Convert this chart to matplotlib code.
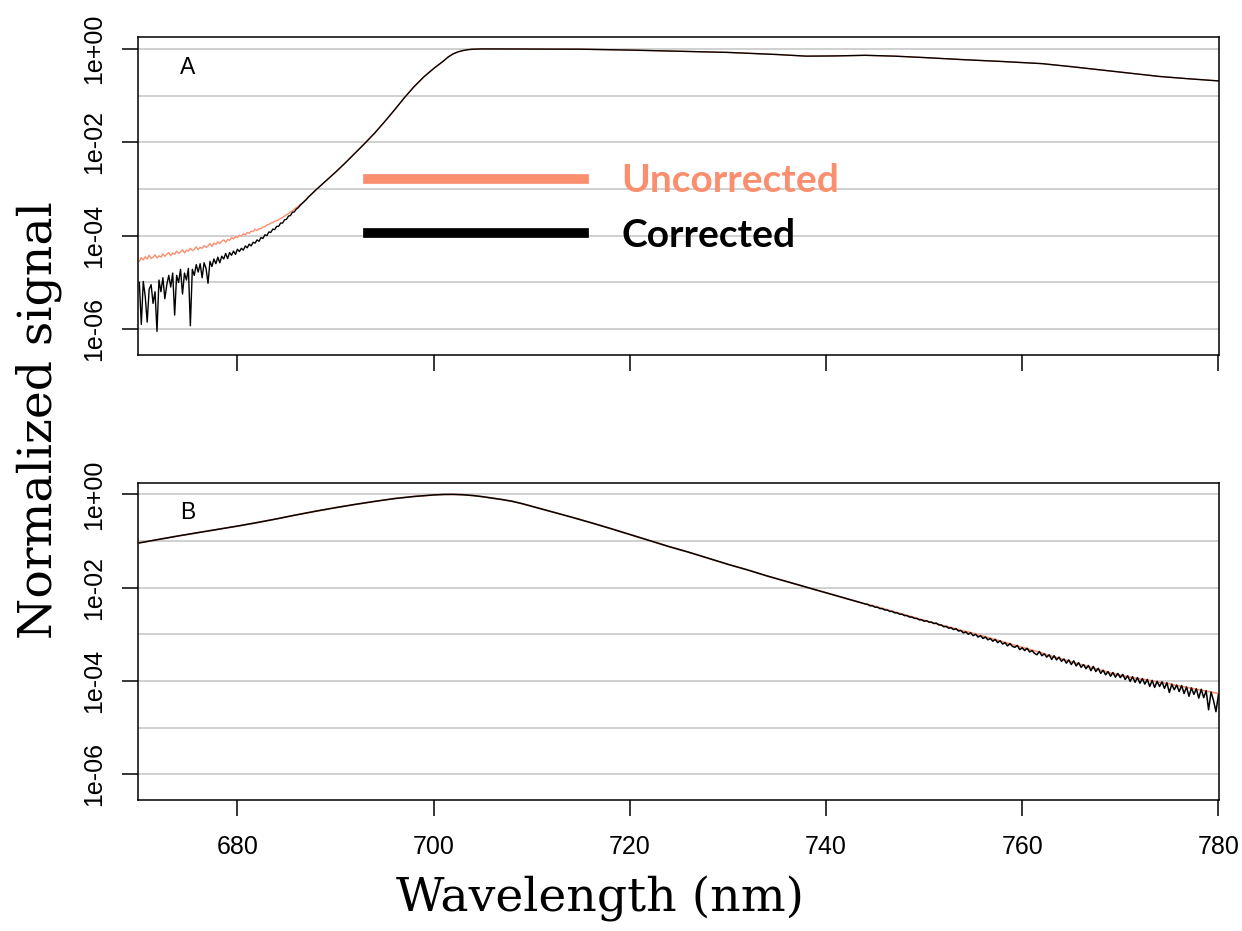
import numpy as np
import matplotlib
matplotlib.use("Agg")
import matplotlib.pyplot as plt
from matplotlib.lines import Line2D

# ---------- DATA (log10 of normalized signal) ----------
# panel A, noisy short-wavelength edge, 670.0 .. 687.8 nm in 0.2 nm steps
A_NOISY_START, A_NOISY_STEP = 670.0, 0.2
a_uncorr_noisy = [
    -4.55, -4.47, -4.52, -4.45, -4.50, -4.42, -4.49, -4.46, -4.41, -4.48,
    -4.43, -4.46, -4.39, -4.44, -4.40, -4.36, -4.43, -4.37, -4.40, -4.33,
    -4.38, -4.35, -4.30, -4.37, -4.31, -4.33, -4.27, -4.32, -4.29, -4.24,
    -4.30, -4.25, -4.27, -4.21, -4.25, -4.22, -4.17, -4.23, -4.16, -4.19,
    -4.13, -4.17, -4.12, -4.09, -4.14, -4.08, -4.10, -4.04, -4.07, -4.02,
    -4.04, -3.99, -4.01, -3.96, -3.98, -3.93, -3.95, -3.90, -3.91, -3.86,
    -3.89, -3.85, -3.85, -3.81, -3.81, -3.77, -3.76, -3.73, -3.72, -3.69,
    -3.68, -3.66, -3.63, -3.61, -3.58, -3.55, -3.53, -3.49, -3.47, -3.43,
    -3.40, -3.37, -3.33, -3.30, -3.26, -3.22, -3.18, -3.14, -3.10, -3.06,
]
a_corr_noisy = [
    -5.00, -5.90, -4.98, -5.30, -5.85, -5.15, -5.05, -5.45, -5.20, -6.05,
    -4.95, -5.20, -4.90, -5.35, -5.05, -4.85, -5.10, -4.80, -5.70, -4.85,
    -5.00, -4.72, -5.25, -4.80, -4.95, -4.70, -5.93, -4.72, -4.85, -4.62,
    -4.78, -4.60, -4.90, -4.58, -4.70, -5.02, -4.55, -4.66, -4.50, -4.60,
    -4.46, -4.58, -4.44, -4.50, -4.38, -4.49, -4.36, -4.42, -4.33, -4.40,
    -4.29, -4.34, -4.27, -4.31, -4.22, -4.26, -4.18, -4.22, -4.14, -4.16,
    -4.09, -4.12, -4.04, -4.06, -3.98, -4.00, -3.92, -3.93, -3.86, -3.87,
    -3.80, -3.80, -3.73, -3.73, -3.66, -3.65, -3.58, -3.57, -3.50, -3.49,
    -3.43, -3.40, -3.35, -3.31, -3.27, -3.23, -3.18, -3.14, -3.10, -3.06,
]
# panel A, part where both curves lie on top of each other
a_smooth_wl = [688, 689, 690, 691, 692, 693, 694, 695, 696, 697, 698, 699,
               700, 701, 701.5, 702, 702.5, 703, 703.5, 704, 705, 710, 715,
               720, 725, 730, 735, 738, 741, 744, 747, 750, 754, 758, 762,
               765, 768, 771, 774, 777, 780]
a_smooth_log = [-3.02, -2.83, -2.64, -2.44, -2.23, -2.02, -1.80, -1.56,
                -1.31, -1.05, -0.81, -0.60, -0.42, -0.26, -0.17, -0.105,
                -0.062, -0.034, -0.016, -0.006, 0.0, -0.003, -0.006, -0.025,
                -0.05, -0.075, -0.12, -0.155, -0.15, -0.137, -0.155, -0.185,
                -0.23, -0.27, -0.315, -0.38, -0.45, -0.52, -0.59, -0.64,
                -0.685]

# panel B, smooth part (both curves identical)
b_smooth_wl = [670, 672, 674, 676, 678, 680, 682, 684, 686, 688, 690, 692,
               694, 696, 698, 700, 701, 702, 703, 704, 705, 706, 707, 708,
               709, 710, 712, 714, 716, 718, 720, 722, 724, 726, 728, 730,
               732, 734, 736, 738, 740, 742, 744]
b_smooth_log = [-1.04, -0.965, -0.89, -0.82, -0.75, -0.68, -0.605, -0.525,
                -0.44, -0.36, -0.285, -0.215, -0.15, -0.09, -0.045, -0.012,
                -0.002, 0.0, -0.008, -0.025, -0.05, -0.08, -0.112, -0.148,
                -0.198, -0.255, -0.37, -0.485, -0.605, -0.73, -0.86, -0.99,
                -1.12, -1.24, -1.37, -1.50, -1.62, -1.75, -1.87, -1.99,
                -2.11, -2.23, -2.35]
# panel B, noisy long-wavelength tail, 744.25 .. 780.0 nm in 0.25 nm steps
B_TAIL_START, B_TAIL_STEP = 744.25, 0.25
b_corr_tail = [
    -2.36, -2.39, -2.39, -2.42, -2.42, -2.45, -2.45, -2.48,
    -2.48, -2.51, -2.51, -2.54, -2.54, -2.57, -2.57, -2.60,
    -2.60, -2.63, -2.63, -2.66, -2.66, -2.69, -2.69, -2.72,
    -2.71, -2.74, -2.74, -2.77, -2.76, -2.80, -2.80, -2.84,
    -2.83, -2.87, -2.86, -2.90, -2.88, -2.93, -2.92, -2.97,
    -2.95, -3.00, -2.97, -3.03, -3.00, -3.06, -3.03, -3.09,
    -3.06, -3.12, -3.09, -3.15, -3.11, -3.18, -3.14, -3.21,
    -3.18, -3.25, -3.20, -3.26, -3.28, -3.24, -3.33, -3.29,
    -3.35, -3.30, -3.38, -3.35, -3.41, -3.44, -3.37, -3.46,
    -3.42, -3.49, -3.44, -3.54, -3.46, -3.55, -3.49, -3.58,
    -3.53, -3.62, -3.55, -3.65, -3.57, -3.68, -3.61, -3.71,
    -3.65, -3.74, -3.67, -3.78, -3.69, -3.80, -3.73, -3.84,
    -3.77, -3.87, -3.80, -3.90, -3.82, -3.92, -3.84, -3.93,
    -3.86, -3.97, -3.89, -4.01, -3.91, -4.03, -3.93, -4.05,
    -3.95, -4.07, -3.97, -4.12, -3.99, -4.14, -4.01, -4.12,
    -4.02, -4.16, -4.04, -4.25, -4.07, -4.19, -4.09, -4.23,
    -4.10, -4.27, -4.13, -4.33, -4.15, -4.29, -4.17, -4.37,
    -4.18, -4.36, -4.21, -4.62, -4.24, -4.42, -4.66, -4.30,
]
# uncorrected tail sampled every 0.5 nm, 744.5 .. 780.0 nm
B_UNC_START, B_UNC_STEP = 744.5, 0.5
b_uncorr_tail = [
    -2.37, -2.40, -2.43, -2.46, -2.49, -2.52, -2.55, -2.58,
    -2.61, -2.64, -2.67, -2.70, -2.73, -2.76, -2.79, -2.82,
    -2.84, -2.87, -2.90, -2.93, -2.95, -2.98, -3.01, -3.04,
    -3.07, -3.10, -3.13, -3.16, -3.19, -3.22, -3.25, -3.28,
    -3.31, -3.34, -3.37, -3.40, -3.44, -3.47, -3.50, -3.53,
    -3.56, -3.59, -3.62, -3.65, -3.68, -3.71, -3.74, -3.77,
    -3.80, -3.83, -3.85, -3.88, -3.90, -3.92, -3.94, -3.96,
    -3.97, -3.99, -4.01, -4.03, -4.05, -4.06, -4.09, -4.11,
    -4.13, -4.15, -4.17, -4.19, -4.21, -4.23, -4.25, -4.27,
]

ORANGE = "#FA8F70"
GRID = "#c4c4c4"
SANS = "Liberation Sans"
SERIF = "DejaVu Serif"


def build_series(start, step, noisy, wl_rest, log_rest, noisy_first=True):
    wl_noisy = start + step * np.arange(len(noisy))
    if noisy_first:
        wl = np.concatenate([wl_noisy, wl_rest])
        lg = np.concatenate([noisy, log_rest])
    else:
        wl = np.concatenate([wl_rest, wl_noisy])
        lg = np.concatenate([log_rest, noisy])
    return wl, 10.0 ** lg


def style_axis(ax, label, show_xlabels):
    ax.set_yscale("log")
    ax.set_xlim(669.9, 780.05)
    ax.set_ylim(10 ** -6.555, 10 ** 0.25)
    for d in range(-6, 1):
        ax.axhline(10.0 ** d, color=GRID, lw=1.1, zorder=0)
    ax.set_yticks([1e0, 1e-2, 1e-4, 1e-6], ["1e+00", "1e-02", "1e-04", "1e-06"])
    ax.yaxis.set_minor_locator(matplotlib.ticker.NullLocator())
    ax.set_xticks([680, 700, 720, 740, 760, 780])
    if not show_xlabels:
        ax.set_xticklabels([])
    ax.tick_params(axis="both", length=11.5, width=1.1, labelsize=18,
                   direction="out")
    ax.tick_params(axis="x", pad=14)
    ax.tick_params(axis="y", pad=12)
    for t in ax.get_yticklabels():
        t.set_rotation(90)
        t.set_va("center")
        t.set_family(SANS)
    for t in ax.get_xticklabels():
        t.set_family(SANS)
    for s in ax.spines.values():
        s.set_linewidth(1.1)
    ax.text(0.046, 0.905, label, transform=ax.transAxes, fontsize=16.5,
            family=SANS, ha="center", va="center")


fig = plt.figure(figsize=(12.42, 9.31), dpi=100)
ax_a = fig.add_axes([0.1114, 0.6187, 0.8700, 0.3413])
ax_b = fig.add_axes([0.1114, 0.1407, 0.8700, 0.3408])

# panel A
wl_u, y_u = build_series(A_NOISY_START, A_NOISY_STEP, a_uncorr_noisy,
                         a_smooth_wl, a_smooth_log)
wl_c, y_c = build_series(A_NOISY_START, A_NOISY_STEP, a_corr_noisy,
                         a_smooth_wl, a_smooth_log)
ax_a.plot(wl_u, y_u, color=ORANGE, lw=1.0, zorder=2)
ax_a.plot(wl_c, y_c, color="black", lw=1.0, zorder=3)
style_axis(ax_a, "A", False)

# panel B
wl_u, y_u = build_series(B_UNC_START, B_UNC_STEP, b_uncorr_tail,
                         b_smooth_wl, b_smooth_log, noisy_first=False)
wl_c, y_c = build_series(B_TAIL_START, B_TAIL_STEP, b_corr_tail,
                         b_smooth_wl, b_smooth_log, noisy_first=False)
ax_b.plot(wl_u, y_u, color=ORANGE, lw=1.2, zorder=2)
ax_b.plot(wl_c, y_c, color="black", lw=1.1, zorder=3)
style_axis(ax_b, "B", True)

# legend inside panel A
handles = [Line2D([], [], color=ORANGE, lw=7),
           Line2D([], [], color="black", lw=7)]
leg = ax_a.legend(handles, ["Uncorrected", "Corrected"], loc="upper left",
                  bbox_to_anchor=(0.2128, 0.603), frameon=False,
                  borderpad=0, borderaxespad=0, handlelength=5.55,
                  handletextpad=0.95, labelspacing=0.5,
                  prop={"family": "Lato", "weight": "bold", "size": 28},
                  labelcolor=[ORANGE, "black"])

fig.text(0.031, 0.549, "Normalized signal", rotation=90, fontsize=34,
         family=SERIF, ha="center", va="center")
fig.text(0.483, 0.034, "Wavelength (nm)", fontsize=34, family=SERIF,
         ha="center", va="center")

fig.savefig("out.png", dpi=100)
